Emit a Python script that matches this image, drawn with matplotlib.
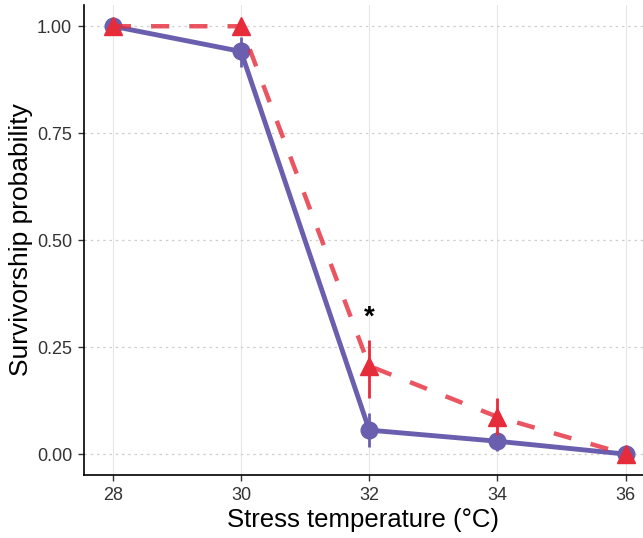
import matplotlib
matplotlib.use("Agg")
import matplotlib.pyplot as plt
import numpy as np

plt.rcParams["font.family"] = ["Liberation Sans", "DejaVu Sans"]

temps = [28, 30, 32, 34, 36]
purple_mean = [1.0, 0.941, 0.056, 0.030, 0.0]
purple_lo = [1.0, 0.905, 0.016, 0.008, 0.0]
purple_hi = [1.0, 0.975, 0.096, 0.052, 0.0]
red_mean = [1.0, 1.0, 0.206, 0.087, 0.0]
red_lo = [1.0, 1.0, 0.131, 0.045, 0.0]
red_hi = [1.0, 1.0, 0.267, 0.130, 0.0]
yticks = [0.0, 0.25, 0.5, 0.75, 1.0]
ytick_labels = ["0.00", "0.25", "0.50", "0.75", "1.00"]
star_pos = (32, 0.318)

purple = "#6a5fae"
red = "#e62b3a"

fig = plt.figure(figsize=(6.43, 5.38), dpi=100)
ax = fig.add_axes([0.1306, 0.117, 0.8694, 0.874])

x = np.array(temps)
pm = np.array(purple_mean)
rm = np.array(red_mean)

ax.vlines(x, purple_lo, purple_hi, color=purple, lw=2, zorder=3)
ax.plot(x, pm, color=purple, lw=3.5, marker="o", ms=12, zorder=4,
        solid_capstyle="round")
ax.vlines(x, red_lo, red_hi, color=red, lw=2, zorder=5)
ax.plot(x, rm, color=red, lw=3.2, ls=(0, (4.1, 4.5)), alpha=0.8, zorder=5)
ax.plot(x, rm, color=red, lw=0, marker="^", ms=13, zorder=6)

ax.text(star_pos[0], star_pos[1], "*", ha="center", va="center",
        fontsize=20, fontweight="bold", color="black")

ax.set_xlim(27.55, 36.27)
ax.set_ylim(-0.049, 1.05)
ax.set_xticks(temps)
ax.set_yticks(yticks)
ax.set_yticklabels(ytick_labels)

for v in temps:
    ax.axvline(v, color="#e6e6e6", lw=0.8, zorder=0)
for v in yticks:
    ax.axhline(v, color="#cfcfcf", lw=0.9, ls=(0, (2, 3)), zorder=0)

ax.spines["top"].set_visible(False)
ax.spines["right"].set_visible(False)
ax.spines["left"].set_linewidth(1.2)
ax.spines["bottom"].set_linewidth(1.2)
ax.tick_params(labelsize=13, colors="#333333", length=4.5, width=1, pad=4)
ax.tick_params(axis="both", labelcolor="#333333")

ax.set_xlabel("Stress temperature (°C)", fontsize=18.5, labelpad=3)
ax.set_ylabel("Survivorship probability", fontsize=19, labelpad=3)

fig.savefig("out.png", dpi=100)
